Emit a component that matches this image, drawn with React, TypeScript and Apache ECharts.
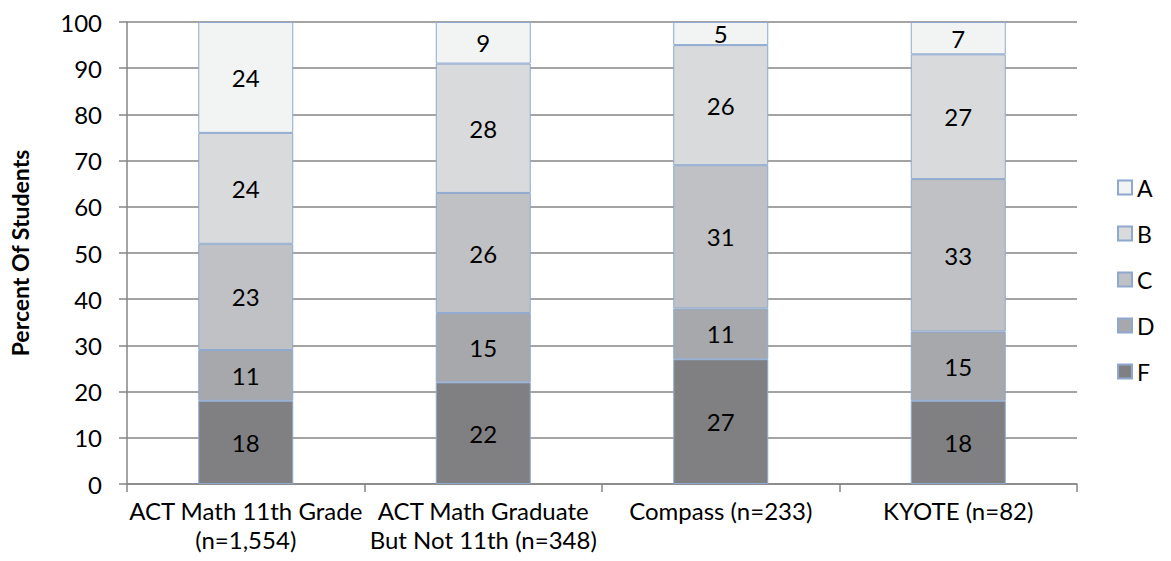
import React, { useEffect, useRef } from "react";
import * as echarts from "echarts";

const categories = [
  "ACT Math 11th Grade\n(n=1,554)",
  "ACT Math Graduate\nBut Not 11th (n=348)",
  "Compass (n=233)",
  "KYOTE (n=82)",
];
const gradeF = [18, 22, 27, 18];
const gradeD = [11, 15, 11, 15];
const gradeC = [23, 26, 31, 33];
const gradeB = [24, 28, 26, 27];
const gradeA = [24, 9, 5, 7];
const yTicks = { min: 0, max: 100, interval: 10 };

const FONT = "Lato, 'Open Sans', sans-serif";
const FS = 24;

export default function App() {
  const ref = useRef<HTMLDivElement>(null);
  useEffect(() => {
    if (!ref.current) return;
    const chart = echarts.init(ref.current, undefined, { renderer: "svg" });
    const mk = (name: string, data: number[], color: string) => ({
      name,
      type: "bar",
      stack: "total",
      data,
      barWidth: "40%",
      itemStyle: { color, borderColor: "#8EA8CF", borderWidth: 1 },
      label: {
        show: true,
        position: "inside",
        color: "#000",
        fontSize: FS,
        fontFamily: FONT,
      },
    });
    chart.setOption({
      animation: false,
      textStyle: { fontFamily: FONT },
      grid: { left: 125, right: 94, top: 22, bottom: 77, containLabel: false },
      legend: {
        orient: "vertical",
        left: 1112,
        top: 171,
        itemGap: 23,
        itemWidth: 14,
        itemHeight: 14,
        icon: "rect",
        data: ["A", "B", "C", "D", "F"],
        textStyle: { fontSize: 23, color: "#000", fontFamily: FONT, padding: [0, 0, 0, 0] },
      },
      xAxis: {
        type: "category",
        data: categories,
        axisLine: { lineStyle: { color: "#868686", width: 1.5 } },
        axisTick: { show: true, length: 8, lineStyle: { color: "#868686", width: 1.5 } },
        axisLabel: {
          color: "#000",
          fontSize: FS,
          fontFamily: FONT,
          lineHeight: 29,
          margin: 12,
          interval: 0,
        },
      },
      yAxis: {
        type: "value",
        min: yTicks.min,
        max: yTicks.max,
        interval: yTicks.interval,
        name: "Percent Of Students",
        nameLocation: "middle",
        nameGap: 96,
        nameTextStyle: { fontSize: 23, fontWeight: "bold", color: "#000", fontFamily: FONT },
        axisLine: { show: true, lineStyle: { color: "#868686", width: 1.5 } },
        axisTick: { show: true, length: 8, lineStyle: { color: "#868686", width: 1.5 } },
        axisLabel: { color: "#000", fontSize: FS, fontFamily: FONT, margin: 25 },
        splitLine: { lineStyle: { color: "#868686", width: 1.5 } },
      },
      series: [
        mk("F", gradeF, "#808083"),
        mk("D", gradeD, "#A7A8AB"),
        mk("C", gradeC, "#C0C1C5"),
        mk("B", gradeB, "#D9DADC"),
        mk("A", gradeA, "#F2F3F3"),
      ],
    });
    return () => chart.dispose();
  }, []);
  return <div ref={ref} style={{ width: 1171, height: 561, position: "absolute", left: 0, top: 0 }} />;
}
